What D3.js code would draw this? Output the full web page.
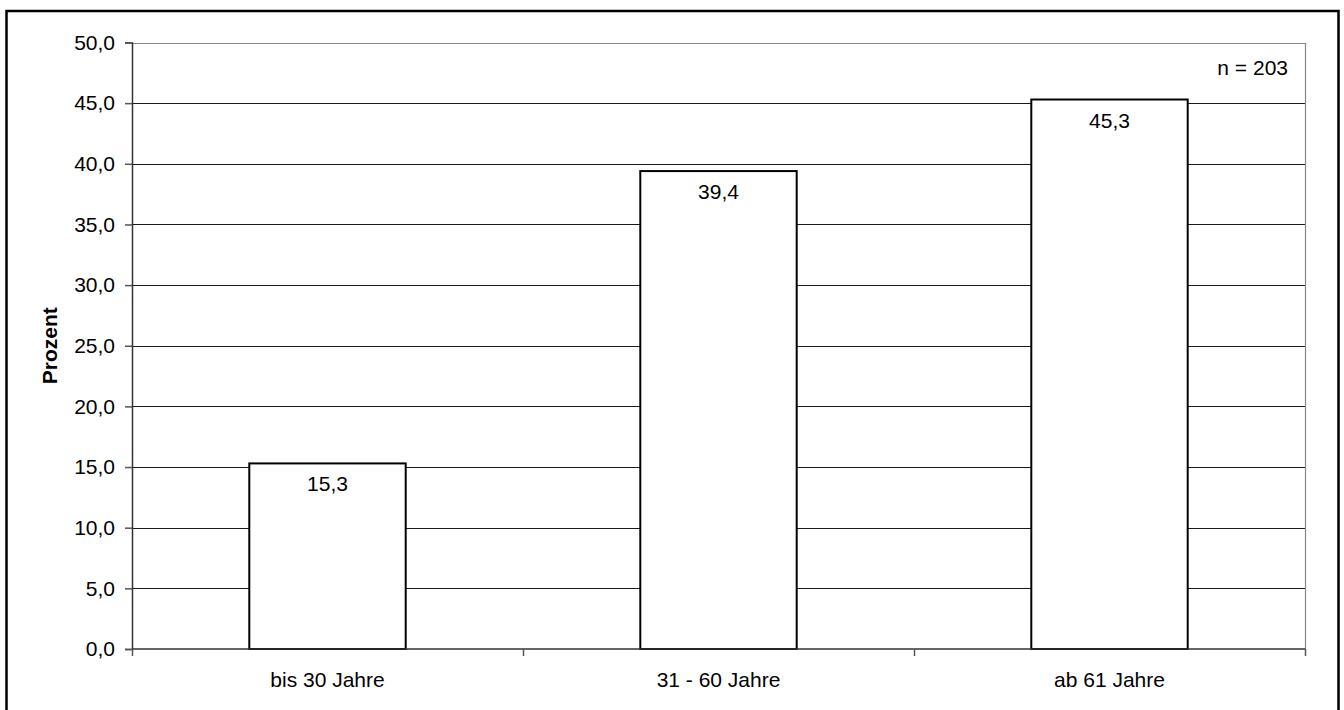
<!DOCTYPE html>
<html>
<head>
<meta charset="utf-8">
<script src="https://cdn.jsdelivr.net/npm/d3@7"></script>
<style>
  html, body { margin: 0; padding: 0; background: #fff; }
  svg { display: block; font-family: Arial, "Liberation Sans", sans-serif; }
</style>
</head>
<body>
<svg id="chart" width="1344" height="710"></svg>
<script>
// Age groups and their share in percent
const categories = ["bis 30 Jahre", "31 - 60 Jahre", "ab 61 Jahre"];
const values = [15.3, 39.4, 45.3];
const yTicks = [0, 5, 10, 15, 20, 25, 30, 35, 40, 45, 50];
const sampleNote = "n = 203";
const yTitle = "Prozent";

const svg = d3.select("#chart");
const W = 1344, H = 710;
const plot = { left: 132, right: 1305, top: 42.5, bottom: 649 };

const fmt = v => d3.format(".1f")(v).replace(".", ",");

// outer frame
svg.append("rect")
  .attr("x", 6.5).attr("y", 11).attr("width", 1332).attr("height", 710)
  .attr("fill", "none").attr("stroke", "#000").attr("stroke-width", 2.5);

const x = d3.scaleBand().domain(categories)
  .range([plot.left, plot.right]).paddingInner(0.6).paddingOuter(0.3);
const xOuter = d3.scaleBand().domain(categories).range([plot.left, plot.right]);
const y = d3.scaleLinear().domain([0, 50]).range([plot.bottom, plot.top]);

// horizontal gridlines
svg.append("g").selectAll("line").data(yTicks.filter(t => t > 0 && t < 50)).join("line")
  .attr("x1", plot.left).attr("x2", plot.right)
  .attr("y1", d => Math.round(y(d)) + 0.5).attr("y2", d => Math.round(y(d)) + 0.5)
  .attr("stroke", "#1a1a1a").attr("stroke-width", 1);

// plot area frame top and right
svg.append("path")
  .attr("d", `M${plot.left},${Math.round(plot.top) + 0.5}H${plot.right + 0.5}V${plot.bottom}`)
  .attr("fill", "none").attr("stroke", "#888").attr("stroke-width", 1.2);

// bars
svg.append("g").selectAll("rect").data(values).join("rect")
  .attr("x", (d, i) => x(categories[i]))
  .attr("width", x.bandwidth())
  .attr("y", d => y(d))
  .attr("height", d => y(0) - y(d))
  .attr("fill", "#fff").attr("stroke", "#000").attr("stroke-width", 2);

// value labels inside the bar tops
svg.append("g").selectAll("text").data(values).join("text")
  .attr("x", (d, i) => x(categories[i]) + x.bandwidth() / 2)
  .attr("y", d => y(d) + 28)
  .attr("text-anchor", "middle").attr("font-size", 21).attr("fill", "#000")
  .text(d => fmt(d));

// y axis
const yAxis = svg.append("g").attr("transform", `translate(${plot.left},0)`)
  .call(d3.axisLeft(y).tickValues(yTicks).tickFormat(fmt).tickSize(7).tickPadding(10));
yAxis.select(".domain").attr("stroke", "#333").attr("stroke-width", 1.5);
yAxis.selectAll(".tick line").attr("stroke", "#555").attr("stroke-width", 1.5);
yAxis.selectAll(".tick text").attr("font-size", 21).attr("fill", "#000")
  .attr("font-family", "Arial, 'Liberation Sans', sans-serif");

// x axis baseline with ticks at category boundaries
svg.append("line")
  .attr("x1", plot.left).attr("x2", plot.right + 0.5)
  .attr("y1", plot.bottom).attr("y2", plot.bottom)
  .attr("stroke", "#333").attr("stroke-width", 1.5);
const bounds = categories.map(c => xOuter(c)).concat([plot.right]);
svg.append("g").selectAll("line").data(bounds).join("line")
  .attr("x1", d => Math.round(d) + 0.5).attr("x2", d => Math.round(d) + 0.5)
  .attr("y1", plot.bottom).attr("y2", plot.bottom + 7)
  .attr("stroke", "#555").attr("stroke-width", 1.5);

// category labels
svg.append("g").selectAll("text").data(categories).join("text")
  .attr("x", d => xOuter(d) + xOuter.bandwidth() / 2)
  .attr("y", 687)
  .attr("text-anchor", "middle").attr("font-size", 21).attr("fill", "#000")
  .text(d => d);

// y axis title
svg.append("text")
  .attr("transform", `translate(57,${(plot.top + plot.bottom) / 2}) rotate(-90)`)
  .attr("text-anchor", "middle").attr("font-size", 21).attr("font-weight", "bold")
  .text(yTitle);

// sample size note
svg.append("text")
  .attr("x", 1288).attr("y", 75)
  .attr("text-anchor", "end").attr("font-size", 21)
  .text(sampleNote);
</script>
</body>
</html>
